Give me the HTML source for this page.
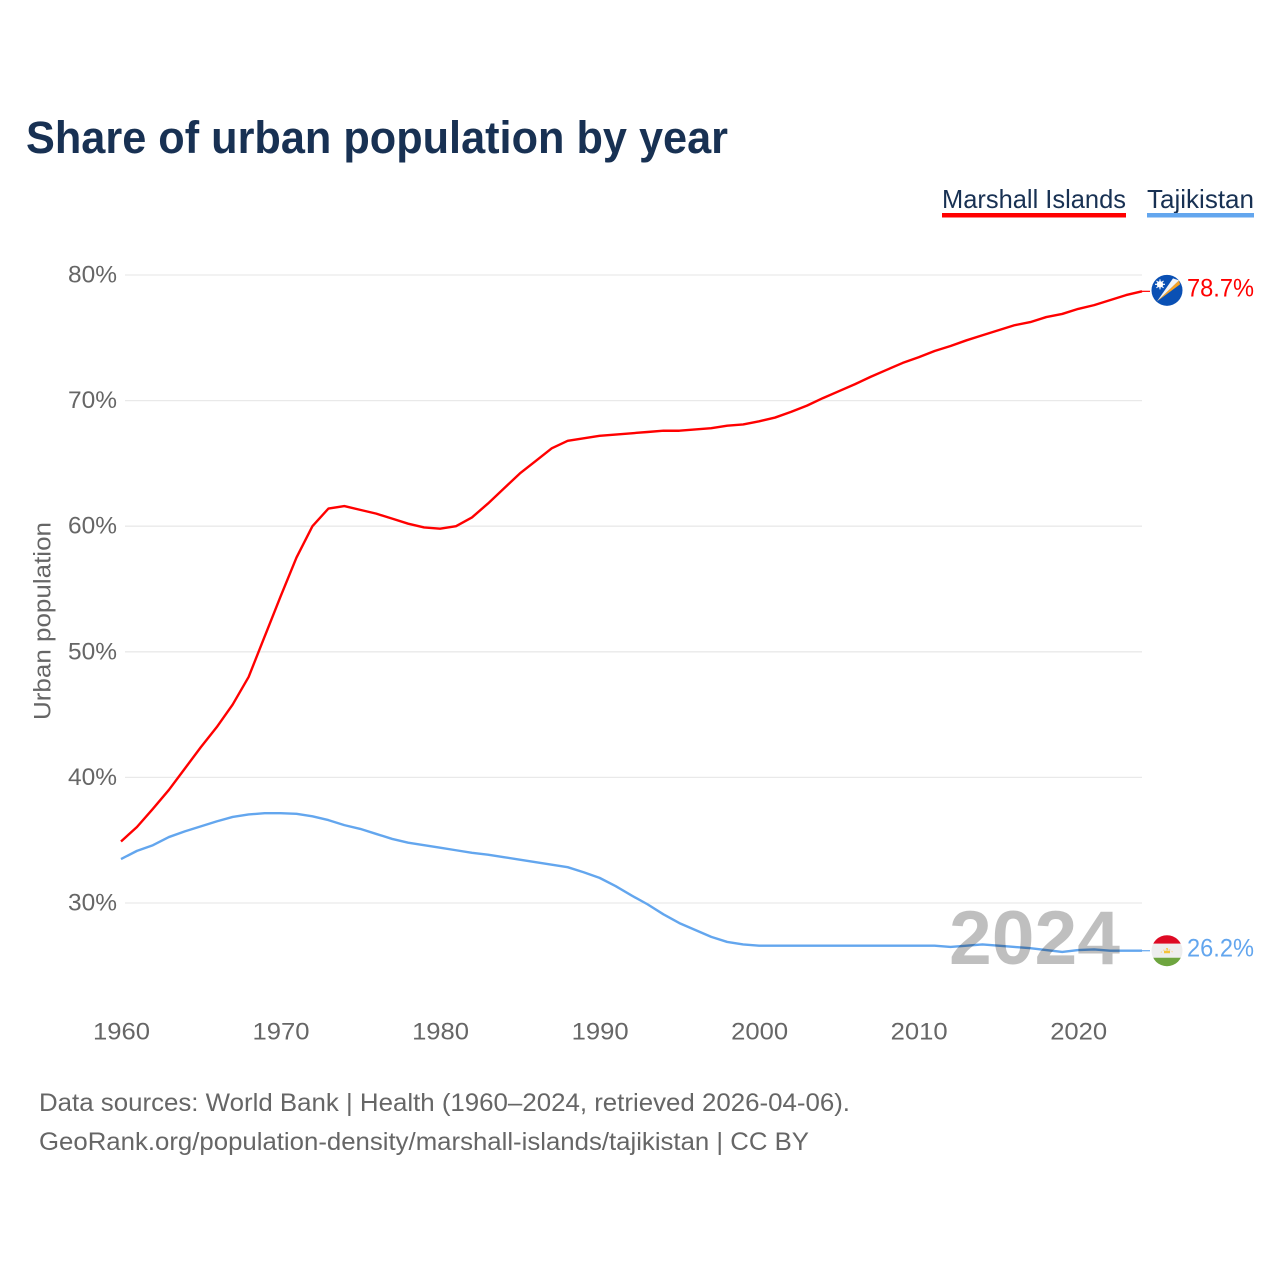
<!DOCTYPE html>
<html lang="en">
<head>
<meta charset="utf-8">
<title>Share of urban population by year</title>
<style>
html,body{margin:0;padding:0;background:#fff;}
svg{display:block;font-family:"Liberation Sans",sans-serif;}
</style>
</head>
<body>
<svg id="chart" xmlns="http://www.w3.org/2000/svg" width="1280" height="1280" viewBox="0 0 1280 1280">
  <defs>
    <clipPath id="flag-clip"><circle cx="0" cy="0" r="15.5"></circle></clipPath>
  </defs>
  <rect x="0" y="0" width="1280" height="1280" fill="#ffffff"></rect>
  <text x="26" y="153" font-size="45" font-weight="700" fill="#183153" textLength="702" lengthAdjust="spacingAndGlyphs">Share of urban population by year</text>

  <g>
    <text x="942" y="208" font-size="26" fill="#183153" textLength="184" lengthAdjust="spacingAndGlyphs">Marshall Islands</text>
    <rect x="942" y="213" width="184" height="4.5" fill="#ff0000"></rect>
  </g>
  <g>
    <text x="1147" y="208" font-size="26" fill="#183153" textLength="107" lengthAdjust="spacingAndGlyphs">Tajikistan</text>
    <rect x="1147" y="213" width="107" height="4.5" fill="#63a6ee"></rect>
  </g>

  <g id="grid"></g>
  <g id="y-ticks"></g>
  <g id="x-ticks"></g>
  <text transform="translate(50.5 621) rotate(-90)" text-anchor="middle" font-size="24" fill="#666666" textLength="198" lengthAdjust="spacingAndGlyphs">Urban population</text>

  <g id="series"></g>

  <text x="1120" y="964" text-anchor="end" font-size="76" font-weight="700" fill="#000000" fill-opacity="0.25" textLength="171" lengthAdjust="spacingAndGlyphs">2024</text>

  <g id="flag-mh">
    <g clip-path="url(#flag-clip)">
      <rect x="-16" y="-16" width="32" height="32" fill="#0a50b4"></rect>
      <polygon points="-10,11 12,-10 13,-6" fill="#f7a325"></polygon>
      <polygon points="-10,11 6,-12 12,-10" fill="#f4f4f4"></polygon>
      <circle cx="-7" cy="-6" r="3.2" fill="#ffffff"></circle>
      <path d="M-7,-11 L-7,-1 M-12,-6 L-2,-6 M-10.5,-9.5 L-3.5,-2.5 M-10.5,-2.5 L-3.5,-9.5" stroke="#ffffff" stroke-width="1.1"></path>
    </g>
  </g>
  <g id="flag-tj">
    <g clip-path="url(#flag-clip)">
      <rect x="-16" y="-16" width="32" height="9" fill="#de0a24"></rect>
      <rect x="-16" y="-7" width="32" height="14" fill="#eeeeee"></rect>
      <rect x="-16" y="7" width="32" height="9" fill="#6ea53f"></rect>
      <rect x="-3" y="0" width="6" height="2.5" fill="#f5c33a"></rect>
      <circle cx="0" cy="-1.5" r="1.2" fill="#f5c33a"></circle>
      <path d="M-6,2 A7,7 0 0 1 6,2" fill="none" stroke="#f6d9a0" stroke-width="1.2" stroke-dasharray="1.5 1.5"></path>
    </g>
  </g>
  <g id="value-labels"></g>

  <text x="39" y="1111" font-size="25" fill="#666666" textLength="811" lengthAdjust="spacingAndGlyphs">Data sources: World Bank | Health (1960–2024, retrieved 2026-04-06).</text>
  <text x="39" y="1150" font-size="25" fill="#666666" textLength="770" lengthAdjust="spacingAndGlyphs">GeoRank.org/population-density/marshall-islands/tajikistan | CC BY</text>
</svg>
<script>
const startYear = 1960;
const yTicks = [30, 40, 50, 60, 70, 80];
const xTicks = [1960, 1970, 1980, 1990, 2000, 2010, 2020];
const marshallIslands = [34.9, 36.05, 37.5, 39.0, 40.7, 42.4, 44.0, 45.8, 48.0, 51.2, 54.4, 57.5, 60.0, 61.4, 61.6, 61.3, 61.0, 60.6, 60.2, 59.9, 59.8, 60.0, 60.7, 61.8, 63.0, 64.2, 65.2, 66.2, 66.8, 67.0, 67.2, 67.3, 67.4, 67.5, 67.6, 67.6, 67.7, 67.8, 68.0, 68.1, 68.35, 68.65, 69.1, 69.6, 70.2, 70.75, 71.3, 71.9, 72.45, 73.0, 73.45, 73.95, 74.35, 74.8, 75.2, 75.6, 76.0, 76.25, 76.65, 76.9, 77.3, 77.6, 78.0, 78.4, 78.7];
const tajikistan = [33.5, 34.15, 34.6, 35.25, 35.7, 36.1, 36.5, 36.85, 37.05, 37.15, 37.15, 37.1, 36.9, 36.6, 36.2, 35.9, 35.5, 35.1, 34.8, 34.6, 34.4, 34.2, 34.0, 33.85, 33.65, 33.45, 33.25, 33.05, 32.85, 32.45, 32.0, 31.35, 30.6, 29.9, 29.1, 28.4, 27.85, 27.3, 26.9, 26.7, 26.6, 26.6, 26.6, 26.6, 26.6, 26.6, 26.6, 26.6, 26.6, 26.6, 26.6, 26.6, 26.5, 26.6, 26.7, 26.6, 26.5, 26.4, 26.25, 26.1, 26.25, 26.3, 26.2, 26.2, 26.2];

const SVG_NS = 'http://www.w3.org/2000/svg';
function xScale(year) { return 121 + (year - 1960) * (1142 - 121) / 64; }
function yScale(pct) { return 903 - (pct - 30) * (903 - 275) / 50; }

const gridGroup = document.getElementById('grid');
const yTickGroup = document.getElementById('y-ticks');
const xTickGroup = document.getElementById('x-ticks');
const seriesGroup = document.getElementById('series');
const labelGroup = document.getElementById('value-labels');

yTicks.forEach(function (t) {
  const line = document.createElementNS(SVG_NS, 'line');
  
  
  line.setAttribute('x1', 125);
  line.setAttribute('x2', 1142);
  line.setAttribute('y1', yScale(t));
  line.setAttribute('y2', yScale(t));
  line.setAttribute('stroke', '#e9e9e9');
  line.setAttribute('stroke-width', '1.3');
  gridGroup.appendChild(line);

  const label = document.createElementNS(SVG_NS, 'text');
  
  
  label.setAttribute('x', 117);
  label.setAttribute('y', yScale(t) + 7.5);
  label.setAttribute('text-anchor', 'end');
  label.setAttribute('font-size', '24.5');
  label.setAttribute('fill', '#666666');
  label.setAttribute('textLength', '49');
  label.setAttribute('lengthAdjust', 'spacingAndGlyphs');
  label.textContent = t + '%';
  yTickGroup.appendChild(label);
});

xTicks.forEach(function (t) {
  const label = document.createElementNS(SVG_NS, 'text');
  
  
  label.setAttribute('x', xScale(t) + 0.5);
  label.setAttribute('y', 1039.5);
  label.setAttribute('text-anchor', 'middle');
  label.setAttribute('font-size', '24.5');
  label.setAttribute('fill', '#666666');
  label.setAttribute('textLength', '57');
  label.setAttribute('lengthAdjust', 'spacingAndGlyphs');
  label.textContent = t;
  xTickGroup.appendChild(label);
});

function pathFor(values) {
  return values.map(function (v, i) {
    return (i ? 'L' : 'M') + xScale(startYear + i).toFixed(2) + ',' + yScale(v).toFixed(2);
  }).join(' ');
}
function lastOf(values) { return values[values.length - 1]; }

const redLine = document.createElementNS(SVG_NS, 'path');


redLine.setAttribute('d', pathFor(marshallIslands));
redLine.setAttribute('fill', 'none');
redLine.setAttribute('stroke', '#ff0000');
redLine.setAttribute('stroke-width', '2.4');
redLine.setAttribute('stroke-linejoin', 'round');
seriesGroup.appendChild(redLine);

const blueLine = document.createElementNS(SVG_NS, 'path');


blueLine.setAttribute('d', pathFor(tajikistan));
blueLine.setAttribute('fill', 'none');
blueLine.setAttribute('stroke', '#63a6ee');
blueLine.setAttribute('stroke-width', '2.4');
blueLine.setAttribute('stroke-linejoin', 'round');
seriesGroup.appendChild(blueLine);

const endYear = startYear + marshallIslands.length - 1;
const redEndY = yScale(lastOf(marshallIslands));
const blueEndY = yScale(lastOf(tajikistan));

const redConnector = document.createElementNS(SVG_NS, 'line');


redConnector.setAttribute('x1', xScale(endYear));
redConnector.setAttribute('x2', xScale(endYear) + 8);
redConnector.setAttribute('y1', redEndY);
redConnector.setAttribute('y2', redEndY);
redConnector.setAttribute('stroke', '#ff0000');
redConnector.setAttribute('stroke-width', '1.2');
seriesGroup.appendChild(redConnector);

const blueConnector = document.createElementNS(SVG_NS, 'line');


blueConnector.setAttribute('x1', xScale(endYear));
blueConnector.setAttribute('x2', xScale(endYear) + 8);
blueConnector.setAttribute('y1', blueEndY);
blueConnector.setAttribute('y2', blueEndY);
blueConnector.setAttribute('stroke', '#63a6ee');
blueConnector.setAttribute('stroke-width', '1.2');
seriesGroup.appendChild(blueConnector);

document.getElementById('flag-mh').setAttribute('transform', 'translate(1167 ' + (redEndY - 1).toFixed(2) + ')');
document.getElementById('flag-tj').setAttribute('transform', 'translate(1167 ' + blueEndY.toFixed(2) + ')');

const redValue = document.createElementNS(SVG_NS, 'text');


redValue.setAttribute('x', 1187);
redValue.setAttribute('y', redEndY + 5);
redValue.setAttribute('font-size', '25');
redValue.setAttribute('fill', '#ff0000');
redValue.setAttribute('textLength', '67');
redValue.setAttribute('lengthAdjust', 'spacingAndGlyphs');
redValue.textContent = lastOf(marshallIslands).toFixed(1) + '%';
labelGroup.appendChild(redValue);

const blueValue = document.createElementNS(SVG_NS, 'text');


blueValue.setAttribute('x', 1187);
blueValue.setAttribute('y', blueEndY + 6);
blueValue.setAttribute('font-size', '25');
blueValue.setAttribute('fill', '#63a6ee');
blueValue.setAttribute('textLength', '67');
blueValue.setAttribute('lengthAdjust', 'spacingAndGlyphs');
blueValue.textContent = lastOf(tajikistan).toFixed(1) + '%';
labelGroup.appendChild(blueValue);
</script>
</body>
</html>
